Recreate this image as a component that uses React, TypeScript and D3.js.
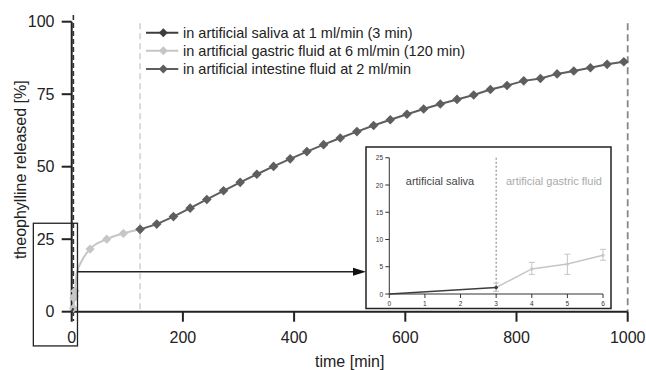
import React from "react";
import * as d3 from "d3";

// ---- data ----
const salivaT = [0, 3];
const salivaV = [0, 1.2];

const gastricT = [3, 4, 5, 6, 9, 18, 33, 63, 93, 123];
const gastricV = [1.2, 4.6, 5.4, 7.1, 13.2, 17.5, 21.6, 25.0, 27.0, 28.4];
const gastricMarked = [true, true, true, true, false, false, true, true, true, true];

const intestineT = [
  123, 153, 183, 213, 243, 273, 303, 333, 363, 393, 423, 453, 483, 513, 543,
  573, 603, 633, 663, 693, 723, 753, 783, 813, 843, 873, 903, 933, 963, 993,
];
const intestineV = [
  28.4, 30.2, 32.8, 35.7, 38.7, 41.7, 44.6, 47.4, 50.1, 52.7, 55.2, 57.6, 59.9,
  62.1, 64.2, 66.2, 68.1, 69.9, 71.6, 73.2, 74.7, 76.6, 78.0, 79.6, 80.4, 82.0,
  83.0, 84.1, 85.3, 86.2,
];

// inset (first 6 minutes)
const insetSalT = [0, 3];
const insetSalV = [0, 1.2];
const insetGasT = [3, 4, 5, 6];
const insetGasV = [1.2, 4.6, 5.5, 7.1];
const insetGasLo = [0.5, 3.6, 3.6, 6.2];
const insetGasHi = [2.0, 5.8, 7.3, 8.2];

const xTicks = [0, 200, 400, 600, 800, 1000];
const yTicks = [0, 25, 50, 75, 100];
const insetXTicks = [0, 1, 2, 3, 4, 5, 6];
const insetYTicks = [0, 5, 10, 15, 20, 25];
const phaseLines = [3, 123, 1000];

const legendLabels = [
  "in artificial saliva at 1 ml/min (3 min)",
  "in artificial gastric fluid at 6 ml/min (120 min)",
  "in artificial intestine fluid at 2 ml/min",
];

const C_SAL = "#3d3d3d";
const C_GAS = "#c6c6c6";
const C_INT = "#5e5e5e";
const FONT = "'Liberation Sans', Arial, sans-serif";

const diamond = (r: number) => `M0,${-r}L${r},0L0,${r}L${-r},0Z`;

export default function App() {
  const W = 646,
    H = 370;
  const x = d3.scaleLinear().domain([0, 1000]).range([71.7, 627.7]);
  const y = d3.scaleLinear().domain([0, 100]).range([311.7, 21.7]);

  const lineMain = d3
    .line<[number, number]>()
    .x((d) => x(d[0]))
    .y((d) => y(d[1]));
  const lineGas = d3
    .line<[number, number]>()
    .x((d) => x(d[0]))
    .y((d) => y(d[1]))
    .curve(d3.curveMonotoneX);

  const sal = salivaT.map((t, i) => [t, salivaV[i]] as [number, number]);
  const gas = gastricT.map((t, i) => [t, gastricV[i]] as [number, number]);
  const intes = intestineT.map((t, i) => [t, intestineV[i]] as [number, number]);

  // inset
  const ix = d3.scaleLinear().domain([0, 6]).range([389.3, 603]);
  const iy = d3.scaleLinear().domain([0, 25]).range([294, 157.75]);
  const iline = d3
    .line<[number, number]>()
    .x((d) => ix(d[0]))
    .y((d) => iy(d[1]));
  const iSal = insetSalT.map((t, i) => [t, insetSalV[i]] as [number, number]);
  const iGas = insetGasT.map((t, i) => [t, insetGasV[i]] as [number, number]);

  const frame = { x0: 366, x1: 611, y0: 147, y1: 308.5 };

  const boxL = x(-69),
    boxR = x(10.4),
    boxT = y(30.5),
    boxB = y(-11.8);
  const arrowY = y(13.8);

  const legendY = [32.7, 50.7, 69];
  const legendColors = [C_SAL, C_GAS, C_INT];

  return (
    <svg
      width={W}
      height={H}
      style={{ position: "absolute", left: 0, top: 0, background: "#fff" }}
      fontFamily={FONT}
    >
      <rect x={0} y={0} width={W} height={H} fill="#fff" />

      {/* phase dashed lines */}
      <line
        x1={x(phaseLines[0])}
        x2={x(phaseLines[0])}
        y1={15}
        y2={321}
        stroke="#333"
        strokeWidth={1.6}
        strokeDasharray="5,3"
      />
      <line
        x1={x(phaseLines[1])}
        x2={x(phaseLines[1])}
        y1={y(99.5)}
        y2={y(0)}
        stroke="#cfcfcf"
        strokeWidth={1.5}
        strokeDasharray="6,4"
      />
      <line
        x1={x(phaseLines[2])}
        x2={x(phaseLines[2])}
        y1={y(99.5)}
        y2={y(0)}
        stroke="#888"
        strokeWidth={1.8}
        strokeDasharray="7,4"
      />

      {/* axes */}
      <line x1={x(0)} x2={x(1000)} y1={y(0)} y2={y(0)} stroke="#222" strokeWidth={2} />
      <line x1={x(0)} x2={x(0)} y1={y(100)} y2={y(0)} stroke="#222" strokeWidth={2} />
      {xTicks.map((t) => (
        <g key={"xt" + t}>
          <line x1={x(t)} x2={x(t)} y1={y(0)} y2={y(0) + 10} stroke="#222" strokeWidth={2} />
          <text x={x(t)} y={337} fontSize={16} textAnchor="middle" dominantBaseline="central" fill="#222">
            {t}
          </text>
        </g>
      ))}
      {yTicks.map((v) => (
        <g key={"yt" + v}>
          <line x1={x(0) - 10} x2={x(0)} y1={y(v)} y2={y(v)} stroke="#222" strokeWidth={2} />
          <text x={54.5} y={y(v)} fontSize={16} textAnchor="end" dominantBaseline="central" fill="#222">
            {v}
          </text>
        </g>
      ))}
      <text x={349.7} y={361} fontSize={16} textAnchor="middle" dominantBaseline="central" fill="#222">
        time [min]
      </text>
      <text
        transform={`translate(20,${y(50) + 3}) rotate(-90)`}
        fontSize={16}
        textAnchor="middle"
        dominantBaseline="central"
        fill="#222"
      >
        theophylline released [%]
      </text>

      {/* series */}
      <path d={lineGas(gas) || ""} fill="none" stroke={C_GAS} strokeWidth={2} />
      {gas.map((d, i) =>
        gastricMarked[i] ? (
          <path key={"gm" + i} d={diamond(4.6)} transform={`translate(${x(d[0])},${y(d[1])})`} fill={C_GAS} />
        ) : null
      )}
      <path d={lineMain(sal) || ""} fill="none" stroke={C_SAL} strokeWidth={2} />
      <path d={lineMain(intes) || ""} fill="none" stroke={C_INT} strokeWidth={2} />
      {intes.map((d, i) => (
        <path key={"im" + i} d={diamond(4.8)} transform={`translate(${x(d[0])},${y(d[1])})`} fill={C_INT} />
      ))}

      {/* legend */}
      {legendLabels.map((lab, i) => (
        <g key={"lg" + i}>
          <line x1={146} x2={178.3} y1={legendY[i]} y2={legendY[i]} stroke={legendColors[i]} strokeWidth={2} />
          <path d={diamond(4.5)} transform={`translate(163.3,${legendY[i]})`} fill={legendColors[i]} />
          <text x={183} y={legendY[i]} fontSize={14.5} dominantBaseline="central" fill="#222">
            {lab}
          </text>
        </g>
      ))}

      {/* zoom box and arrow */}
      <rect x={boxL} y={boxT} width={boxR - boxL} height={boxB - boxT} fill="none" stroke="#222" strokeWidth={1.3} />
      <line x1={boxR} x2={frame.x0 - 12} y1={arrowY} y2={arrowY} stroke="#222" strokeWidth={1.5} />
      <path
        d={`M${frame.x0},${arrowY}L${frame.x0 - 13},${arrowY - 4}L${frame.x0 - 13},${arrowY + 4}Z`}
        fill="#111"
      />

      {/* inset */}
      <rect
        x={frame.x0}
        y={frame.y0}
        width={frame.x1 - frame.x0}
        height={frame.y1 - frame.y0}
        fill="#fff"
        stroke="#222"
        strokeWidth={1.5}
      />
      <line x1={ix(3)} x2={ix(3)} y1={iy(25)} y2={iy(0)} stroke="#555" strokeWidth={0.8} strokeDasharray="2,2" />
      <line x1={ix(0)} x2={ix(6)} y1={iy(0)} y2={iy(0)} stroke="#333" strokeWidth={1} />
      <line x1={ix(0)} x2={ix(0)} y1={iy(25)} y2={iy(0)} stroke="#333" strokeWidth={1} />
      {insetXTicks.map((t) => (
        <g key={"ixt" + t}>
          <line x1={ix(t)} x2={ix(t)} y1={iy(0)} y2={iy(0) + 4} stroke="#333" strokeWidth={1} />
          <text x={ix(t)} y={303.5} fontSize={6.5} textAnchor="middle" dominantBaseline="central" fill="#333">
            {t}
          </text>
        </g>
      ))}
      {insetYTicks.map((v) => (
        <g key={"iyt" + v}>
          <line x1={ix(0) - 4} x2={ix(0)} y1={iy(v)} y2={iy(v)} stroke="#333" strokeWidth={1} />
          <text x={383} y={iy(v)} fontSize={6.5} textAnchor="end" dominantBaseline="central" fill="#333">
            {v}
          </text>
        </g>
      ))}
      <text x={440} y={180.7} fontSize={11} textAnchor="middle" dominantBaseline="central" fill="#444">
        artificial saliva
      </text>
      <text x={554} y={180.7} fontSize={11} textAnchor="middle" dominantBaseline="central" fill="#aaa">
        artificial gastric fluid
      </text>
      {/* gastric inset */}
      {insetGasT.map((t, i) => (
        <g key={"ieb" + i} stroke={C_GAS} strokeWidth={1}>
          <line x1={ix(t)} x2={ix(t)} y1={iy(insetGasLo[i])} y2={iy(insetGasHi[i])} />
          <line x1={ix(t) - 3} x2={ix(t) + 3} y1={iy(insetGasLo[i])} y2={iy(insetGasLo[i])} />
          <line x1={ix(t) - 3} x2={ix(t) + 3} y1={iy(insetGasHi[i])} y2={iy(insetGasHi[i])} />
        </g>
      ))}
      <path d={iline(iGas) || ""} fill="none" stroke={C_GAS} strokeWidth={1.5} />
      {iGas.map((d, i) => (
        <circle key={"igm" + i} cx={ix(d[0])} cy={iy(d[1])} r={1.6} fill={C_GAS} />
      ))}
      <path d={iline(iSal) || ""} fill="none" stroke={C_SAL} strokeWidth={1.5} />
      {iSal.slice(1).map((d, i) => (
        <path key={"ism" + i} d={diamond(2.2)} transform={`translate(${ix(d[0])},${iy(d[1])})`} fill={C_SAL} />
      ))}
    </svg>
  );
}
